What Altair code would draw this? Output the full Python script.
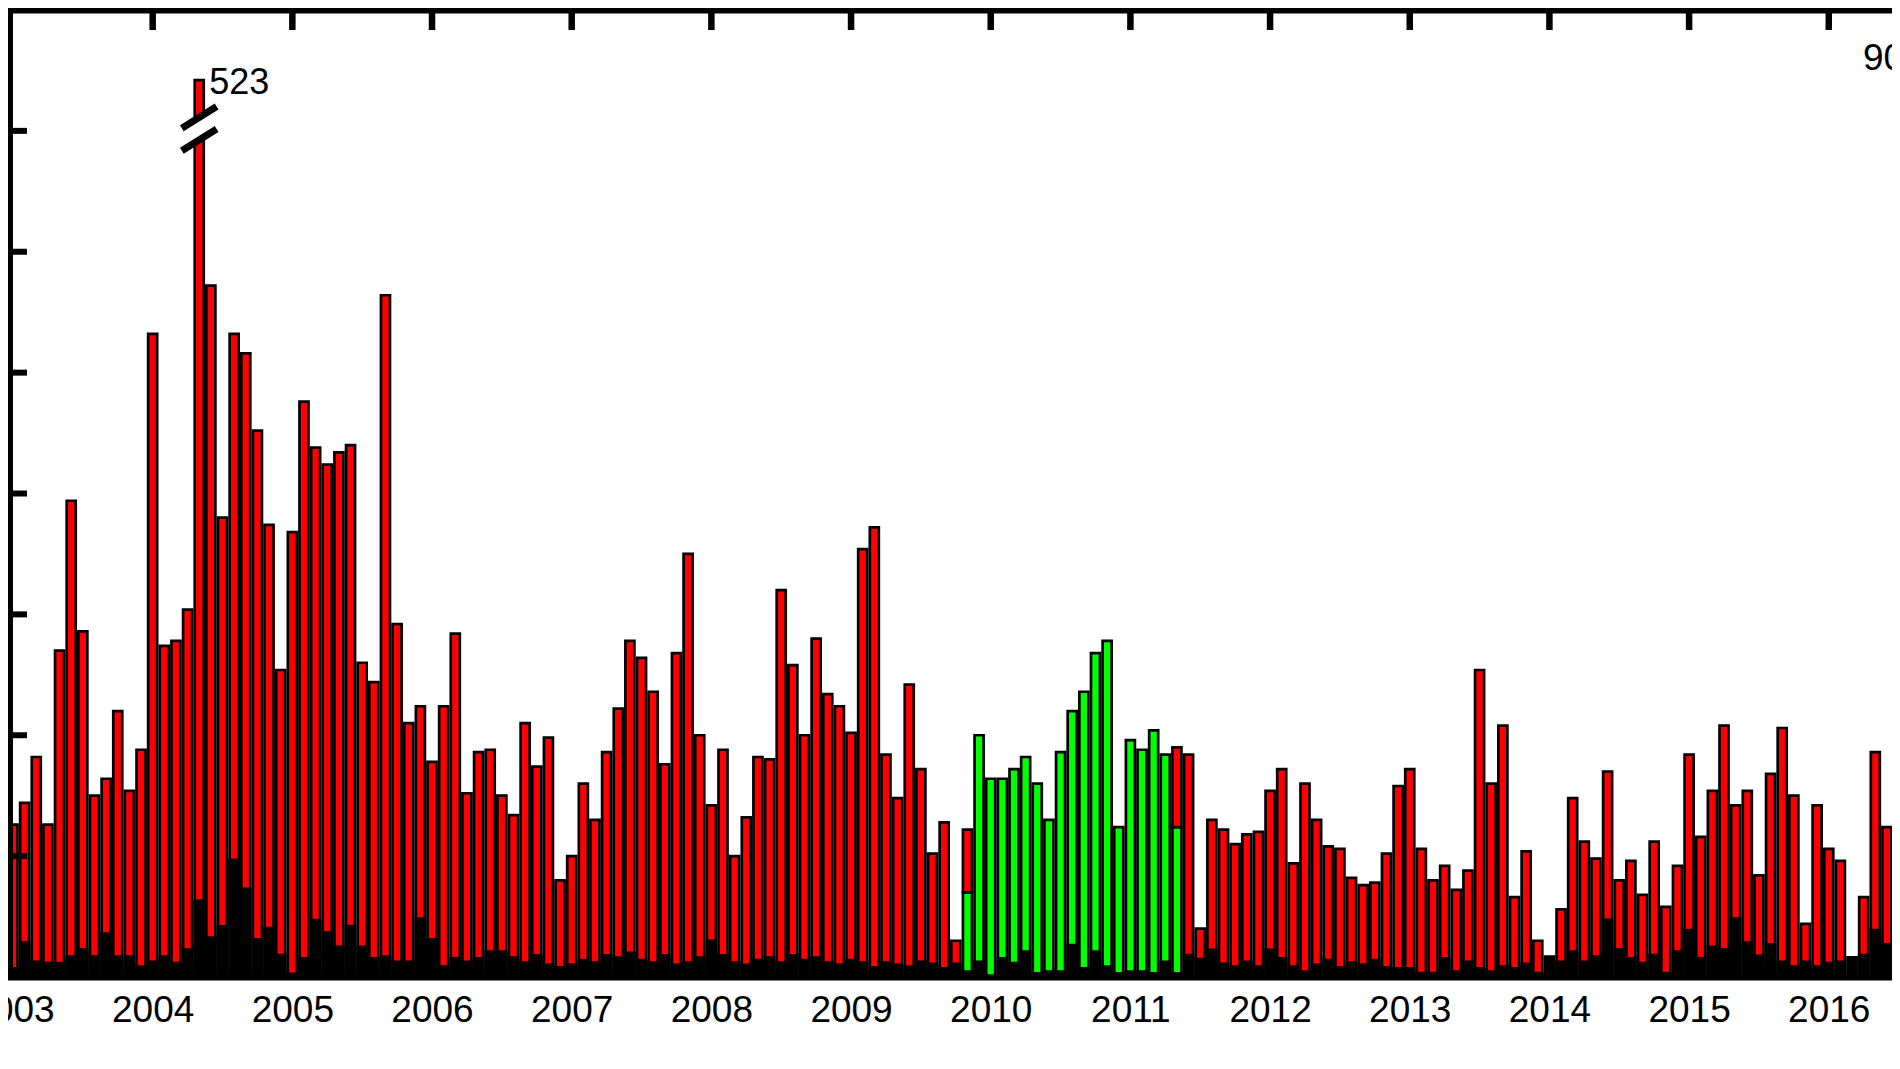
import altair as alt
import pandas as pd

# ---------------- data (monthly, starting January 2003) ----------------
first_year = 2003
year_ticks = list(range(2003, 2017))

red_counts = [
    63, 72, 91, 63, 135, 197, 143, 75, 82, 110, 77, 94,          # 2003
    266, 137, 139, 152, 523, 286, 190, 266, 258, 226, 187, 127,  # 2004
    184, 238, 219, 212, 217, 220, 130, 122, 282, 146, 105, 112,  # 2005
    89, 112, 142, 76, 93, 94, 75, 67, 105, 87, 99, 40,           # 2006
    50, 80, 65, 93, 111, 139, 132, 118, 88, 134, 175, 100,       # 2007
    71, 94, 50, 66, 91, 90, 160, 129, 100, 140, 117, 112,        # 2008
    101, 177, 186, 92, 74, 121, 86, 51, 64, 15, 26, 0,           # 2009
    0, 0, 0, 0, 0, 0, 0, 0, 0, 0, 0, 0,                          # 2010
    0, 0, 0, 0, 33, 92, 20, 65, 61, 55, 59, 60,                  # 2011
    77, 86, 47, 80, 65, 54, 53, 41, 38, 39, 51, 79,              # 2012
    86, 53, 40, 46, 36, 44, 127, 80, 104, 33, 52, 15,            # 2013
    0, 28, 74, 56, 49, 85, 40, 48, 34, 56, 29, 46,               # 2014
    92, 58, 77, 104, 71, 77, 42, 84, 103, 75, 22, 71,            # 2015
    53, 48, 0, 33, 93, 62, 73,                                   # 2016
]

green_counts = [0] * 82 + [
    35, 100,                                                     # Nov-Dec 2009
    82, 82, 86, 91, 80, 65, 93, 110, 118, 134, 139, 62,          # 2010
    98, 94, 102, 92, 62,                                         # Jan-May 2011
] + [0] * 62

black_counts = [
    3.6, 14.2, 6.3, 5.7, 5.7, 8.4, 11.4, 8.4, 18.0, 8.4, 8.4, 4.3,     # 2003
    6.3, 8.4, 5.7, 11.3, 31.5, 16.3, 21.0, 48.5, 36.5, 15.6, 20.2, 9.1, # 2004
    1.3, 7.7, 23.5, 18.4, 12.5, 21.1, 12.5, 7.7, 8.4, 6.3, 6.3, 24.2,   # 2005
    15.6, 4.3, 7.7, 6.3, 7.7, 10.5, 10.5, 8, 6, 9, 5, 4,               # 2006
    5, 7, 6, 9, 8, 10, 7, 6, 9, 5, 6, 8,                               # 2007
    15, 9, 6, 5, 7, 8, 6, 9, 7, 8, 6, 5,                               # 2008
    7, 6, 4, 6, 5, 4.3, 6.3, 5.4, 3.6, 5.4, 2.2, 6.3,                  # 2009
    0.5, 7.7, 5.7, 10.5, 1.5, 2.2, 2.2, 13.2, 3.6, 10.5, 4.3, 1.5,     # 2010
    2.2, 2.2, 1.5, 6.3, 1.5, 9.1, 7.4, 11.2, 5.4, 4.3, 6.3, 4.3,       # 2011
    11.2, 7.7, 4.3, 2.2, 5, 7, 4, 6, 5, 7, 4, 3.6,                     # 2012
    3.6, 1.6, 1.6, 7.7, 2.2, 6.3, 3.6, 2.2, 4.3, 3.6, 5.4, 1.6,        # 2013
    8.4, 6.3, 10.5, 6.3, 8.4, 23.6, 11.4, 7.7, 5.7, 9.1, 1.6, 10.5,    # 2014
    19.4, 7.7, 12.5, 11.4, 24.2, 14.2, 8.7, 13.5, 6.3, 4.3, 6.3, 4.3,  # 2015
    5.7, 6.3, 8.1, 9.1, 19.4, 13.5, 9.1,                               # 2016
]

left_tick_values = [50, 100, 150, 200, 250, 300, 350]
corner_text = "90"

# ---------------- layout constants ----------------
PX_PER_YEAR = 140.42
W = 1884
H = 967
Y_TOP = 400
CAP = 371          # broken bar is drawn up to this height
FONT = "Liberation Sans"

x_scale = alt.Scale(domain=[first_year, first_year + W / PX_PER_YEAR], nice=False, zero=False)
y_scale = alt.Scale(domain=[0, Y_TOP], nice=False, zero=False)

# ---------------- tables built from the lists ----------------
n = len(red_counts)
t = [first_year + k / 12 for k in range(n)]

rows = []
for k in range(n):
    g = green_counts[k]
    r = red_counts[k]
    if g > 0:
        rows.append({"t": t[k], "y0": 0, "y1": g, "s": "g"})
    if r > 0:
        rows.append({"t": t[k], "y0": g, "y1": min(g + r, CAP), "s": "r"})
bars_df = pd.DataFrame(rows)
black_df = pd.DataFrame({"t": t, "b": black_counts})

peak_k = max(range(n), key=lambda k: red_counts[k] + green_counts[k])
peak_t = t[peak_k]
peak_df = pd.DataFrame({"t": [peak_t], "y": [CAP], "label": [str(red_counts[peak_k] + green_counts[peak_k])]})

# break symbol (two slashes with a white gap) on the clipped bar
bc = 350.9
half_dx = 0.1246
half_dy = 4.5
white_df = pd.DataFrame({"xa": [peak_t - half_dx], "xb": [peak_t + half_dx], "ya": [bc - half_dy], "yb": [bc + half_dy]})
slash_df = pd.DataFrame({
    "xa": [peak_t - half_dx] * 2,
    "xb": [peak_t + half_dx] * 2,
    "ya": [bc - half_dy + 4.65, bc - half_dy - 4.65],
    "yb": [bc + half_dy + 4.65, bc + half_dy - 4.65],
})

top_ticks_df = pd.DataFrame({"yr": year_ticks[1:]})
left_ticks_df = pd.DataFrame({"v": left_tick_values})
corner_df = pd.DataFrame({"t": [2016.245], "y": [375], "label": [corner_text]})

# ---------------- layers ----------------
bottom_axis = alt.Axis(
    orient="bottom", values=year_ticks, format="d", title=None, grid=False,
    ticks=False, tickSize=0, labelPadding=15, labelFlush=False, labelOverlap=False,
    labelFont=FONT, labelFontSize=37, labelColor="black",
    domainColor="black", domainWidth=6, domainCap="square", zindex=1,
)
left_axis = alt.Axis(
    orient="left", labels=False, ticks=False, title=None, grid=False,
    domainColor="black", domainWidth=9, domainCap="square", zindex=1,
)
top_axis = alt.Axis(
    orient="top", labels=False, ticks=False, title=None, grid=False,
    domainColor="black", domainWidth=6, domainCap="square", zindex=1,
)

colored = alt.Chart(bars_df).mark_bar(size=9, stroke="black", strokeWidth=2.7).encode(
    x=alt.X("t:Q", scale=x_scale, axis=bottom_axis),
    y=alt.Y("y0:Q", scale=y_scale, axis=left_axis),
    y2="y1:Q",
    fill=alt.Fill("s:N", scale=alt.Scale(domain=["g", "r"], range=["#00ff00", "#ff0000"]), legend=None),
)

blacks = alt.Chart(black_df).mark_bar(size=9, color="black", stroke="black", strokeWidth=2.7).encode(
    x=alt.X("t:Q", scale=x_scale, axis=None),
    y=alt.Y("b:Q", scale=y_scale, axis=None),
    y2=alt.datum(0),
)

white_band = alt.Chart(white_df).mark_rule(color="white", strokeWidth=13).encode(
    x=alt.X("xa:Q", scale=x_scale, axis=None), x2="xb:Q",
    y=alt.Y("ya:Q", scale=y_scale, axis=None), y2="yb:Q",
)
slashes = alt.Chart(slash_df).mark_rule(color="black", strokeWidth=7).encode(
    x=alt.X("xa:Q", scale=x_scale, axis=None), x2="xb:Q",
    y=alt.Y("ya:Q", scale=y_scale, axis=None), y2="yb:Q",
)

peak_label = alt.Chart(peak_df).mark_text(
    align="left", baseline="alphabetic", dx=10, dy=14, font=FONT, fontSize=36, color="black"
).encode(
    x=alt.X("t:Q", scale=x_scale, axis=None),
    y=alt.Y("y:Q", scale=y_scale, axis=None),
    text="label:N",
)

corner_label = alt.Chart(corner_df).mark_text(
    align="left", baseline="alphabetic", font=FONT, fontSize=37, color="black"
).encode(
    x=alt.X("t:Q", scale=x_scale, axis=None),
    y=alt.Y("y:Q", scale=y_scale, axis=None),
    text="label:N",
)

top_ticks = alt.Chart(top_ticks_df).mark_rule(color="black", strokeWidth=6.5).encode(
    x=alt.X("yr:Q", scale=x_scale, axis=top_axis),
    y=alt.value(0),
    y2=alt.value(20),
)

left_ticks = alt.Chart(left_ticks_df).mark_rule(color="black", strokeWidth=6).encode(
    y=alt.Y("v:Q", scale=y_scale, axis=None),
    x=alt.value(0),
    x2=alt.value(19),
)

# left frame line of the plot box (drawn explicitly so it is always visible)
left_frame = alt.Chart(left_ticks_df).mark_rule(color="black", strokeWidth=9).encode(
    x=alt.value(0),
    y=alt.value(0),
    y2=alt.value(H),
)

chart = alt.layer(
    colored, blacks, white_band, slashes, peak_label, corner_label, top_ticks, left_ticks, left_frame
).resolve_axis(x="independent").properties(
    width=W, height=H,
    autosize=alt.AutoSizeParams(type="none"),
    padding={"left": 0, "top": 2, "right": 0, "bottom": 60},
    background="white",
).configure_view(stroke="transparent")

chart.save("out.html", embed_options={"renderer": "svg", "actions": False})
